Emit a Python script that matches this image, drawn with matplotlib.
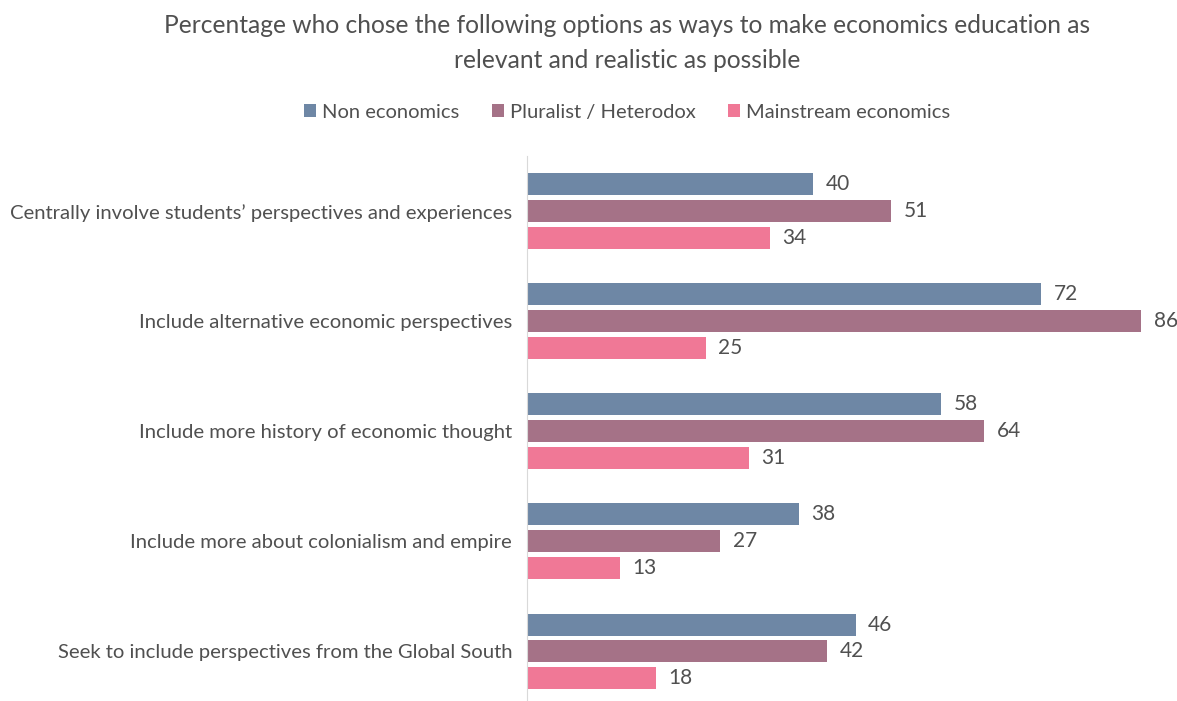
import matplotlib.pyplot as plt
import numpy as np

# Data
categories = [
    "Centrally involve students\u2019 perspectives and experiences",
    "Include alternative economic perspectives",
    "Include more history of economic thought",
    "Include more about colonialism and empire",
    "Seek to include perspectives from the Global South",
]
series_names = ["Non economics", "Pluralist / Heterodox", "Mainstream economics"]
non_econ = [40, 72, 58, 38, 46]
pluralist = [51, 86, 64, 27, 42]
mainstream = [34, 25, 31, 13, 18]

colors = ["#6E87A5", "#A57287", "#F07896"]
text_col = "#505050"

plt.rcParams['font.family'] = ['Lato', 'DejaVu Sans']

fig = plt.figure(figsize=(11.77, 7.01), dpi=100)
ax = fig.add_axes([0.448, 0.0, 0.546, 0.777])

y = np.arange(len(categories))
h = 0.2
pitch = 0.245
for i, (vals, name, c) in enumerate(zip([non_econ, pluralist, mainstream], series_names, colors)):
    pos = y + (i - 1) * pitch
    bars = ax.barh(pos, vals, height=h, color=c, label=name)
    ax.bar_label(bars, labels=[str(v) for v in vals], padding=9,
                 fontsize=15, color=text_col)

ax.set_xlim(0, 90)
ax.set_ylim(4.45, -0.5)
ax.set_yticks(y)
ax.set_yticklabels(categories, fontsize=14.6, color=text_col)
ax.tick_params(axis='y', length=0, pad=11)
ax.set_xticks([])
for s in ['top', 'right', 'bottom']:
    ax.spines[s].set_visible(False)
ax.spines['left'].set_color('#D9D9D9')

fig.text(0.533, 0.963, "Percentage who chose the following options as ways to make economics education as",
         ha='center', va='center', fontsize=17.7, color=text_col)
fig.text(0.533, 0.913, "relevant and realistic as possible",
         ha='center', va='center', fontsize=17.7, color=text_col)

fig.legend(loc='center', bbox_to_anchor=(0.533, 0.84), ncol=3, frameon=False,
           fontsize=14.5, handlelength=0.6, handleheight=0.6, handletextpad=0.3,
           columnspacing=1.6, labelcolor=text_col)

fig.savefig("out.png", dpi=100)
